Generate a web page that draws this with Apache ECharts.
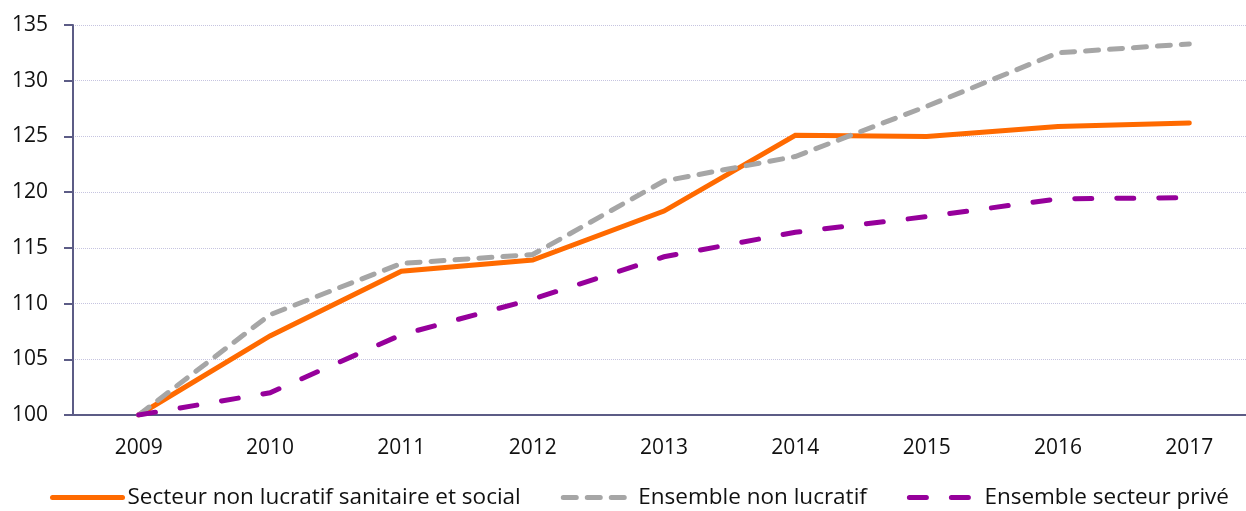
<!DOCTYPE html>
<html>
<head>
<meta charset="utf-8">
<script src="https://cdn.jsdelivr.net/npm/echarts@6/dist/echarts.min.js"></script>
<style>
  html, body { margin: 0; padding: 0; background: #fff; }
  #chart { width: 1246px; height: 511px; }
</style>
</head>
<body>
<div id="chart"></div>
<script>
// données (base 100 en 2009)
var years = ['2009', '2010', '2011', '2012', '2013', '2014', '2015', '2016', '2017'];
var secteurNonLucratif = [100, 107.1, 112.9, 113.9, 118.3, 125.1, 125.0, 125.9, 126.2];
var ensembleNonLucratif = [100, 109.0, 113.6, 114.4, 121.0, 123.2, 127.7, 132.5, 133.3];
var ensemblePrive = [100, 102.0, 107.2, 110.4, 114.2, 116.4, 117.8, 119.4, 119.5];

var yTicks = { min: 100, max: 135, step: 5 };

var axisColor = '#5c5c86';
var font = 'Open Sans';

var chart = echarts.init(document.getElementById('chart'));

var makeLine = function(name, values, color, dash){
    return {
        name: name,
        type: 'line',
        data: values,
        symbol: 'none',
        animation: false,
        lineStyle: {
            color: color,
            width: 5,
            type: dash,
            cap: 'round',
            join: 'miter'
        },
        itemStyle: { color: color }
    };
};

chart.setOption({
    backgroundColor: '#fff',
    textStyle: { fontFamily: font },
    // la zone de tracé déborde un peu à droite, comme dans l'original
    grid: { left: 73, top: 25, right: -9, bottom: 96, containLabel: false, outerBoundsMode: 'none' },
    legend: {
        bottom: -3,
        left: 45,
        itemWidth: 70,
        itemHeight: 6,
        itemGap: 40,
        itemStyle: { opacity: 0 },
        lineStyle: { width: 5, cap: 'round' },
        textStyle: { fontFamily: font, fontSize: 22.5, color: '#111' },
        data: ['Secteur non lucratif sanitaire et social', 'Ensemble non lucratif', 'Ensemble secteur privé']
    },
    xAxis: {
        type: 'category',
        data: years,
        boundaryGap: true,
        axisLine: { lineStyle: { color: axisColor, width: 2 } },
        axisTick: { length: 9, lineStyle: { color: axisColor, width: 2 } },
        axisLabel: { color: '#111', fontSize: 21, margin: 23, fontFamily: font }
    },
    yAxis: {
        type: 'value',
        min: yTicks.min,
        max: yTicks.max,
        interval: yTicks.step,
        axisLine: { show: true, lineStyle: { color: axisColor, width: 2 } },
        axisTick: { show: true, length: 9, lineStyle: { color: axisColor, width: 2 } },
        axisLabel: { color: '#111', fontSize: 21, margin: 25, fontFamily: font },
        splitLine: { lineStyle: { color: '#c6c4e0', type: 'dotted', width: 1 } }
    },
    series: [
        makeLine('Secteur non lucratif sanitaire et social', secteurNonLucratif, '#ff6a00', 'solid'),
        makeLine('Ensemble non lucratif', ensembleNonLucratif, '#a6a6a6', [13, 11]),
        makeLine('Ensemble secteur privé', ensemblePrive, '#96009b', [17, 25])
    ]
});
</script>
</body>
</html>
